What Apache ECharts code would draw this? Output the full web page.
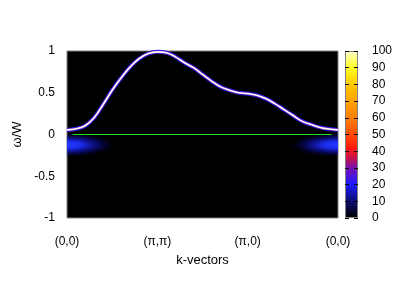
<!DOCTYPE html>
<html><head><meta charset="utf-8">
<script src="https://cdn.jsdelivr.net/npm/echarts@6/dist/echarts.min.js"></script>
<style>html,body{margin:0;padding:0;background:#fff}#c{width:407px;height:285px}</style>
</head><body><div id="c"></div>
<script>
// k-path ticks
const kTicks = [0, 1, 2, 3];
const kTickLabels = ['(0,0)', '(π,π)', '(π,0)', '(0,0)'];
// dispersion (k index along path, ω/W)
const kPos = [0,0.1,0.2,0.3,0.4,0.5,0.6,0.7,0.8,0.9,1.0,1.1,1.2,1.3,1.4,1.5,1.6,1.7,1.8,1.9,2.0,2.1,2.2,2.3,2.4,2.5,2.6,2.7,2.8,2.9,3.0];
const omega = [0.055,0.068,0.105,0.20,0.36,0.53,0.68,0.81,0.91,0.97,0.99,0.98,0.93,0.86,0.80,0.72,0.64,0.57,0.53,0.50,0.49,0.47,0.43,0.37,0.30,0.23,0.16,0.12,0.085,0.065,0.055];
// zero reference line
const zeroLineK = [0.06, 2.93];
const zeroLineW = [0, 0];
// incoherent weight below zero near (0,0)
const blobK = [0, 3];
const blobW = [-0.125, -0.125];
// colorbar
const cbMin = 0, cbMax = 100, cbStep = 10;
const paletteVals = [0, 10, 20, 30, 36, 42, 50, 60, 70, 80, 90, 100];
const paletteCols = ['#000000','#0c0c70','#1a1aff','#7a10b0','#c8104a','#ff1a10','#ff4a00','#ff8000','#ffa400','#ffc800','#ffff20','#ffffd0'];

const curve = kPos.map((k, i) => [k, omega[i]]);
const zeroLine = zeroLineK.map((k, i) => [k, zeroLineW[i]]);
const blobs = blobK.map((k, i) => [k, blobW[i]]);

const chart = echarts.init(document.getElementById('c'));
const font = 'Liberation Sans, Arial, sans-serif';
const cbStops = paletteVals.map((v, i) => ({offset: (v - cbMin) / (cbMax - cbMin), color: paletteCols[i]}));

chart.setOption({
  animation: false,
  backgroundColor: '#fff',
  grid: [
    {left: 67, top: 51, width: 271, height: 167, show: true, backgroundColor: '#000', borderColor: '#808080', borderWidth: 1},
    {left: 345, top: 51, width: 13, height: 167, show: false}
  ],
  xAxis: [
    {gridIndex: 0, type: 'value', min: 0, max: 3, interval: 1,
     axisLine: {show: false}, axisTick: {show: false}, splitLine: {show: false},
     axisLabel: {margin: 18, color: '#000', fontSize: 12, fontFamily: font,
       formatter: v => { const i = kTicks.indexOf(v); return i >= 0 ? kTickLabels[i] : ''; }},
     name: 'k-vectors', nameLocation: 'middle', nameGap: 36,
     nameTextStyle: {color: '#000', fontSize: 13, fontFamily: font}},
    {gridIndex: 1, type: 'category', data: ['c'], show: false}
  ],
  yAxis: [
    {gridIndex: 0, type: 'value', min: -1, max: 1, interval: 0.5,
     axisLine: {show: false}, axisTick: {show: false}, splitLine: {show: false},
     axisLabel: {margin: 12, color: '#000', fontSize: 12, fontFamily: font},
     name: 'ω/W', nameLocation: 'middle', nameGap: 43, nameRotate: 90,
     nameTextStyle: {color: '#000', fontSize: 13, fontFamily: font}},
    {gridIndex: 1, type: 'value', min: cbMin, max: cbMax, interval: cbStep, position: 'right', z: 10,
     axisLine: {show: false}, splitLine: {show: false},
     axisTick: {show: true, inside: true, length: 4, lineStyle: {color: '#000', width: 1}},
     axisLabel: {margin: 14, color: '#000', fontSize: 12, fontFamily: font}},
    {gridIndex: 1, type: 'value', min: cbMin, max: cbMax, interval: cbStep, position: 'left', z: 10,
     axisLine: {show: false}, splitLine: {show: false},
     axisTick: {show: true, inside: true, length: 4, lineStyle: {color: '#000', width: 1}},
     axisLabel: {show: false}}
  ],
  series: [
    {type: 'bar', xAxisIndex: 1, yAxisIndex: 1, data: [cbMax], barWidth: '100%', silent: true, z: 1,
     itemStyle: {borderColor: '#808080', borderWidth: 1,
       color: new echarts.graphic.LinearGradient(0, 1, 0, 0, cbStops)}},
    {type: 'custom', xAxisIndex: 0, yAxisIndex: 0, clip: true, data: blobs, silent: true, z: 2,
     renderItem: (params, api) => {
       const c = api.coord([api.value(0), api.value(1)]);
       const cx = api.coord([api.value(0) + 0.55, api.value(1)]);
       const cy = api.coord([api.value(0), api.value(1) + 0.15]);
       const rx = Math.abs(cx[0] - c[0]), ry = Math.abs(cy[1] - c[1]);
       return {type: 'circle', x: c[0], y: c[1], scaleX: rx / ry, scaleY: 1,
         shape: {cx: 0, cy: 0, r: ry},
         style: {fill: {type: 'radial', x: 0.5, y: 0.5, r: 0.5, colorStops: [
           {offset: 0, color: 'rgba(35,60,255,1)'},
           {offset: 0.3, color: 'rgba(28,45,245,0.95)'},
           {offset: 0.6, color: 'rgba(15,20,180,0.6)'},
           {offset: 0.85, color: 'rgba(5,5,90,0.25)'},
           {offset: 1, color: 'rgba(0,0,0,0)'}]}}};
     }},
    {type: 'line', data: zeroLine, symbol: 'none', silent: true, z: 3,
     lineStyle: {color: '#22dd22', width: 1}},
    {type: 'line', data: curve, symbol: 'none', smooth: 0.4, silent: true, z: 4,
     lineStyle: {color: '#1a1aff', width: 4}},
    {type: 'line', data: curve, symbol: 'none', smooth: 0.4, silent: true, z: 5,
     lineStyle: {color: '#ff3030', width: 2.6, opacity: 0.5}},
    {type: 'line', data: curve, symbol: 'none', smooth: 0.4, silent: true, z: 6,
     lineStyle: {color: '#ffffff', width: 1.6}}
  ]
});
</script></body></html>
